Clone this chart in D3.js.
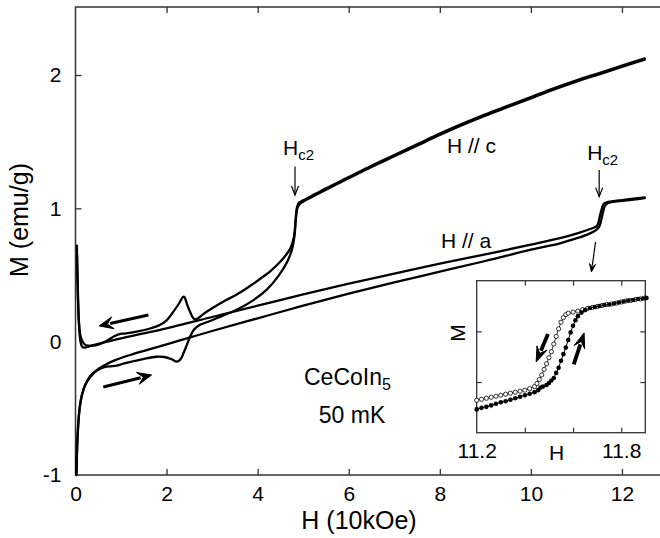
<!DOCTYPE html>
<html>
<head>
<meta charset="utf-8">
<script src="https://cdn.jsdelivr.net/npm/d3@7"></script>
<style>
  body { margin: 0; background: #fff; }
  text { font-family: "Liberation Sans", Arial, sans-serif; fill: #000; }
</style>
</head>
<body>
<svg width="660" height="538"></svg>
<script>
// Field H (10kOe) and magnetisation M (emu/g)

// H // c, increasing field (lower branch, dip near 2.2)
var cUp = [[0.02,-1.0],[0.03,-0.86],[0.045,-0.7],[0.07,-0.57],[0.1,-0.48],[0.15,-0.39],[0.22,-0.32],
  [0.32,-0.26],[0.45,-0.22],[0.6,-0.195],[0.75,-0.185],[0.9,-0.18],[1.05,-0.165],[1.3,-0.145],
  [1.55,-0.125],[1.78,-0.113],[1.95,-0.115],[2.1,-0.13],[2.22,-0.15],[2.3,-0.135],[2.38,-0.08],
  [2.45,-0.02],[2.52,0.04],[2.6,0.09],[2.7,0.12],[2.95,0.155],[3.2,0.19],[3.54,0.24],[3.9,0.31],
  [4.2,0.39],[4.45,0.49],[4.65,0.6],[4.76,0.7],[4.81,0.8],[4.84,0.92],[4.87,1.0],[4.92,1.03],
  [5.0,1.05],[5.25,1.095],[5.5,1.14],[6.0,1.225],[6.5,1.31],[7.0,1.39],[7.5,1.47],[8.0,1.55],
  [8.5,1.625],[9.0,1.695],[9.5,1.76],[10.0,1.825],[10.5,1.89],[11.0,1.95],[11.5,2.005],
  [12.0,2.06],[12.5,2.115]];

// H // c, decreasing field (upper branch, peak near 2.4)
var cDown = [[12.5,2.125],[12.0,2.07],[11.5,2.015],[11.0,1.96],[10.5,1.9],[10.0,1.835],[9.5,1.77],
  [9.0,1.705],[8.5,1.635],[8.0,1.56],[7.5,1.48],[7.0,1.4],[6.5,1.32],[6.0,1.235],[5.5,1.15],
  [5.25,1.105],[5.0,1.06],[4.9,1.04],[4.86,1.0],[4.83,0.9],[4.8,0.79],[4.72,0.7],[4.55,0.62],
  [4.3,0.535],[4.05,0.47],[3.8,0.41],[3.55,0.355],[3.3,0.31],[3.0,0.25],[2.8,0.205],[2.7,0.178],
  [2.63,0.168],[2.58,0.18],[2.52,0.22],[2.45,0.28],[2.39,0.335],[2.36,0.335],[2.28,0.29],
  [2.15,0.225],[2.0,0.16],[1.85,0.125],[1.6,0.095],[1.34,0.075],[1.1,0.062],[0.95,0.055],
  [0.85,0.04],[0.75,0.02],[0.62,-0.005],[0.5,-0.022],[0.38,-0.03],[0.28,-0.03],[0.2,-0.02],
  [0.14,0.01],[0.1,0.06],[0.075,0.15],[0.055,0.3],[0.04,0.5],[0.03,0.72]];

// H // a, increasing field
var aUp = [[0.02,-1.0],[0.035,-0.8],[0.06,-0.63],[0.09,-0.5],[0.14,-0.4],[0.22,-0.32],[0.35,-0.255],
  [0.5,-0.205],[0.7,-0.165],[0.9,-0.135],[1.2,-0.1],[1.6,-0.06],[2.0,-0.02],[2.5,0.03],[3.0,0.08],
  [4.0,0.175],[5.0,0.27],[6.0,0.36],[7.0,0.445],[8.0,0.525],[9.0,0.605],[10.0,0.69],[10.64,0.738],
  [11.0,0.775],[11.25,0.805],[11.4,0.83],[11.46,0.845],[11.51,0.87],[11.55,0.92],[11.59,0.98],
  [11.63,1.02],[11.7,1.04],[11.85,1.05],[12.0,1.056],[12.25,1.066],[12.5,1.076]];

// H // a, decreasing field
var aDown = [[12.5,1.082],[12.25,1.072],[12.0,1.062],[11.8,1.054],[11.66,1.045],[11.6,1.035],
  [11.56,1.0],[11.52,0.95],[11.48,0.89],[11.44,0.865],[11.3,0.845],[11.0,0.81],[10.64,0.776],
  [10.0,0.728],[9.0,0.655],[8.0,0.585],[7.0,0.51],[6.0,0.435],[5.0,0.355],[4.0,0.27],[3.0,0.185],
  [2.0,0.1],[1.5,0.062],[1.0,0.025],[0.7,0.0],[0.5,-0.017],[0.35,-0.03],[0.25,-0.04],[0.18,-0.045],
  [0.14,-0.035],[0.11,0.0],[0.09,0.06],[0.07,0.18],[0.055,0.35],[0.045,0.5],[0.035,0.65]];

// inset: H // a around Hc2, increasing (filled) and decreasing (open)
var insetUp = [[11.2,0.846],[11.22,0.849],[11.24,0.851],[11.26,0.854],[11.28,0.857],[11.3,0.86],
  [11.32,0.862],[11.34,0.865],[11.36,0.868],[11.38,0.871],[11.4,0.874],[11.42,0.877],[11.44,0.88],
  [11.455,0.884],[11.465,0.889],[11.475,0.891],[11.49,0.894],[11.5,0.898],[11.51,0.903],
  [11.52,0.908],[11.53,0.918],[11.54,0.928],[11.55,0.942],[11.56,0.955],[11.57,0.968],
  [11.58,0.983],[11.59,0.998],[11.6,1.011],[11.61,1.022],[11.62,1.03],[11.635,1.037],
  [11.65,1.042],[11.67,1.046],[11.69,1.048],[11.71,1.05],[11.73,1.052],[11.75,1.053],
  [11.77,1.055],[11.79,1.057],[11.81,1.059],[11.83,1.061],[11.85,1.062],[11.87,1.064],
  [11.89,1.065],[11.905,1.066]];
var insetDown = [[11.2,0.864],[11.22,0.866],[11.24,0.868],[11.26,0.87],[11.28,0.872],[11.3,0.874],
  [11.32,0.876],[11.34,0.878],[11.36,0.88],[11.38,0.882],[11.4,0.884],[11.42,0.887],[11.44,0.891],
  [11.45,0.897],[11.46,0.905],[11.47,0.914],[11.48,0.925],[11.49,0.936],[11.5,0.948],[11.51,0.96],
  [11.52,0.975],[11.53,0.99],[11.54,1.005],[11.55,1.018],[11.56,1.027],[11.57,1.033],[11.58,1.036],
  [11.6,1.038],[11.62,1.04],[11.64,1.043],[11.66,1.045],[11.68,1.047],[11.7,1.049],[11.72,1.051],
  [11.74,1.053],[11.76,1.054],[11.78,1.056],[11.8,1.058],[11.82,1.06],[11.84,1.061],[11.86,1.063],
  [11.88,1.064],[11.9,1.066]];

var xTicks = [0, 2, 4, 6, 8, 10, 12];
var yTicks = [-1, 0, 1, 2];
var insetXTicks = [11.2, 11.4, 11.6, 11.8];
var insetXLabels = [11.2, 11.8];
var insetYTicks = [0.9, 1.0];

var svg = d3.select('svg');

// main scales
var x = d3.scaleLinear().domain([0, 13]).range([75.5, 667.5]);
var y = d3.scaleLinear().domain([-1, 2.51]).range([475, 7]);

// frame + ticks
svg.append('rect')
  .attr('x', x(0)).attr('y', y(2.51))
  .attr('width', x(13) - x(0)).attr('height', y(-1) - y(2.51))
  .attr('fill', 'none').attr('stroke', '#333').attr('stroke-width', 1.5);

var xAxis = d3.axisBottom(x).tickValues(xTicks).tickSizeInner(-6).tickSizeOuter(0)
  .tickPadding(11).tickFormat(d => String(d));
var gx = svg.append('g').attr('transform', 'translate(0,' + y(-1) + ')').call(xAxis);
var gxTop = svg.append('g').attr('transform', 'translate(0,' + y(2.51) + ')')
  .call(d3.axisTop(x).tickValues(xTicks.slice(1)).tickSizeInner(-6).tickSizeOuter(0).tickFormat(''));
var yAxis = d3.axisLeft(y).tickValues(yTicks).tickSizeInner(-6).tickSizeOuter(0)
  .tickPadding(14).tickFormat(d => String(d));
var gy = svg.append('g').attr('transform', 'translate(' + x(0) + ',0)').call(yAxis);

[gx, gxTop, gy].forEach(g => {
  g.select('.domain').remove();
  g.selectAll('line').attr('stroke', '#333').attr('stroke-width', 1.3);
  g.selectAll('text').style('font-size', '21px').attr('fill', '#000');
});
gx.selectAll('.tick').filter(d => d === 0).select('line').remove();
gy.selectAll('.tick').filter(d => d === -1 || d === 0).select('line').remove();

// axis titles
svg.append('text').attr('x', 359).attr('y', 529).attr('text-anchor', 'middle')
  .style('font-size', '25px').text('H (10kOe)');
svg.append('text').attr('transform', 'translate(28,220) rotate(-90)').attr('text-anchor', 'middle')
  .style('font-size', '25px').text('M (emu/g)');

// curves
var line = d3.line().x(d => x(d[0])).y(d => y(d[1])).curve(d3.curveCatmullRom.alpha(0.5));
[aUp, aDown, cUp, cDown].forEach(s => {
  svg.append('path').datum(s)
    .attr('fill', 'none').attr('stroke', '#000').attr('stroke-width', 2.3)
    .attr('stroke-linejoin', 'round').attr('stroke-linecap', 'round')
    .attr('d', line);
});

// arrow helper: shaft plus filled head
function arrow(g, x1, y1, x2, y2, w, len, half) {
  var a = Math.atan2(y2 - y1, x2 - x1);
  var bx = x2 - len * 0.8 * Math.cos(a), by = y2 - len * 0.8 * Math.sin(a);
  g.append('line').attr('x1', x1).attr('y1', y1).attr('x2', bx).attr('y2', by)
    .attr('stroke', '#000').attr('stroke-width', w);
  var p1 = [x2 - len * Math.cos(a) + half * Math.sin(a), y2 - len * Math.sin(a) - half * Math.cos(a)];
  var p2 = [x2 - len * Math.cos(a) - half * Math.sin(a), y2 - len * Math.sin(a) + half * Math.cos(a)];
  var p3 = [x2 - len * 0.6 * Math.cos(a), y2 - len * 0.6 * Math.sin(a)];
  g.append('path').attr('d', 'M' + [x2, y2] + 'L' + p1 + 'L' + p3 + 'L' + p2 + 'Z')
    .attr('fill', '#000').attr('stroke', '#000').attr('stroke-width', 1).attr('stroke-linejoin', 'round');
}

// sweep direction arrows
arrow(svg, x(1.6), y(0.2), x(0.52), y(0.118), 3, 14, 6);
arrow(svg, x(0.61), y(-0.34), x(1.67), y(-0.25), 3, 14, 6);

// Hc2 markers
function hc2(h, mText, mTop, mTip) {
  var t = svg.append('text').attr('x', x(h) - 12).attr('y', y(mText)).style('font-size', '21px');
  t.append('tspan').text('H');
  t.append('tspan').attr('dy', 5).style('font-size', '15px').text('c2');
  svg.append('line').attr('x1', x(h)).attr('x2', x(h)).attr('y1', y(mTop)).attr('y2', y(mTip))
    .attr('stroke', '#000').attr('stroke-width', 1.2);
  svg.append('path')
    .attr('d', 'M' + (x(h) - 3.5) + ',' + (y(mTip) - 9) + 'L' + x(h) + ',' + y(mTip) + 'L' + (x(h) + 3.5) + ',' + (y(mTip) - 9))
    .attr('fill', 'none').attr('stroke', '#000').attr('stroke-width', 1.2);
}
hc2(4.82, 1.40, 1.313, 1.10);
hc2(11.5, 1.363, 1.288, 1.088);

// pointer to the inset
arrow(svg, x(11.42), y(0.748), x(11.33), y(0.523), 1.2, 8, 3);

// labels
svg.append('text').attr('x', 447).attr('y', 153).style('font-size', '21px').text('H // c');
svg.append('text').attr('x', 441).attr('y', 248).style('font-size', '21px').text('H // a');
var ce = svg.append('text').attr('x', 304).attr('y', 385).style('font-size', '23px');
ce.append('tspan').text('CeCoIn');
ce.append('tspan').attr('dy', 5).style('font-size', '16px').text('5');
svg.append('text').attr('x', 352).attr('y', 423).attr('text-anchor', 'middle')
  .style('font-size', '23px').text('50 mK');

// inset
var ix = d3.scaleLinear().domain([11.2, 11.9]).range([476.7, 645.3]);
var iy = d3.scaleLinear().domain([0.8, 1.1]).range([432.7, 280.7]);
var inset = svg.append('g');
inset.append('rect').attr('x', ix(11.2)).attr('y', iy(1.1))
  .attr('width', ix(11.9) - ix(11.2)).attr('height', iy(0.8) - iy(1.1))
  .attr('fill', '#fff').attr('stroke', '#333').attr('stroke-width', 1.3);

var ib = inset.append('g').attr('transform', 'translate(0,' + iy(0.8) + ')')
  .call(d3.axisBottom(ix).tickValues(insetXTicks).tickSizeInner(-5).tickSizeOuter(0).tickPadding(10)
    .tickFormat(d => insetXLabels.indexOf(d) >= 0 ? d3.format('.1f')(d) : ''));
var it = inset.append('g').attr('transform', 'translate(0,' + iy(1.1) + ')')
  .call(d3.axisTop(ix).tickValues(insetXTicks.slice(1)).tickSizeInner(-5).tickSizeOuter(0).tickFormat(''));
var il = inset.append('g').attr('transform', 'translate(' + ix(11.2) + ',0)')
  .call(d3.axisLeft(iy).tickValues(insetYTicks).tickSizeInner(-5).tickSizeOuter(0).tickFormat(''));
var ir = inset.append('g').attr('transform', 'translate(' + ix(11.9) + ',0)')
  .call(d3.axisRight(iy).tickValues(insetYTicks).tickSizeInner(-5).tickSizeOuter(0).tickFormat(''));
[ib, it, il, ir].forEach(g => {
  g.select('.domain').remove();
  g.selectAll('line').attr('stroke', '#333').attr('stroke-width', 1.2);
  g.selectAll('text').style('font-size', '21px').attr('fill', '#000');
});
ib.selectAll('.tick').filter(d => d === 11.2).select('line').remove();

inset.append('text').attr('x', 556.7).attr('y', 459.5).attr('text-anchor', 'middle')
  .style('font-size', '21px').text('H');
inset.append('text').attr('transform', 'translate(465,333) rotate(-90)').attr('text-anchor', 'middle')
  .style('font-size', '21px').text('M');

var iline = d3.line().x(d => ix(d[0])).y(d => iy(d[1]));
inset.append('path').datum(insetDown).attr('fill', 'none').attr('stroke', '#000')
  .attr('stroke-width', 0.8).attr('d', iline);
inset.selectAll('.open').data(insetDown).enter().append('circle')
  .attr('cx', d => ix(d[0])).attr('cy', d => iy(d[1])).attr('r', 2.1)
  .attr('fill', '#fff').attr('stroke', '#000').attr('stroke-width', 0.8);
inset.append('path').datum(insetUp).attr('fill', 'none').attr('stroke', '#000')
  .attr('stroke-width', 1).attr('d', iline);
inset.selectAll('.filled').data(insetUp).enter().append('circle')
  .attr('cx', d => ix(d[0])).attr('cy', d => iy(d[1])).attr('r', 2.3).attr('fill', '#000');

// inset sweep arrows
arrow(inset, ix(11.496), iy(0.995), ix(11.447), iy(0.94), 3.8, 15, 5.5);
arrow(inset, ix(11.603), iy(0.935), ix(11.646), iy(0.997), 3.8, 15, 5.5);
</script>
</body>
</html>
